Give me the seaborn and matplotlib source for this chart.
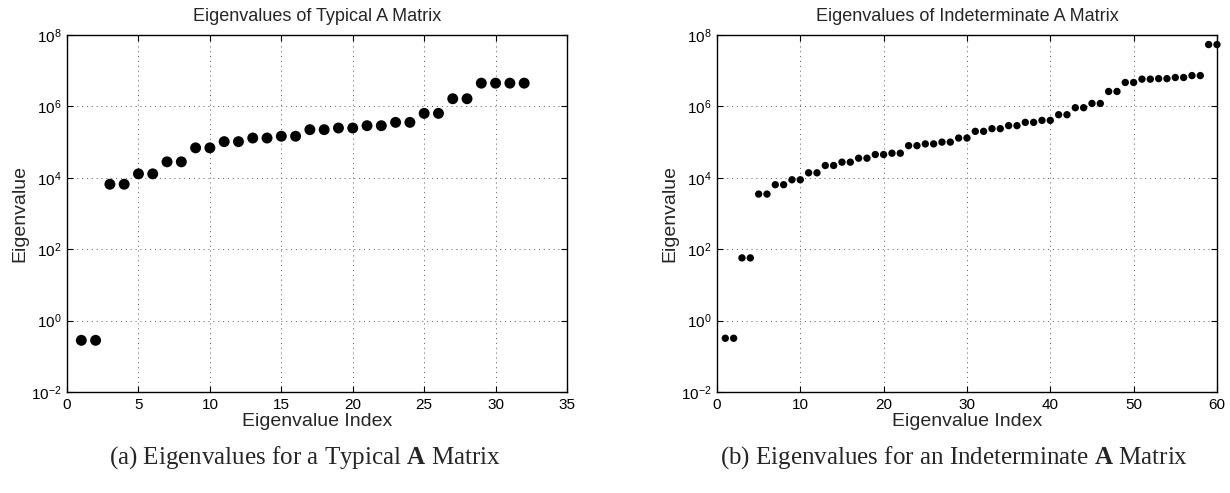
import numpy as np
import pandas as pd
import seaborn as sns
import matplotlib
matplotlib.use("Agg")
import matplotlib.pyplot as plt

# eigenvalues (log scale)
idx_a = list(range(1, 33))
vals_a = [0.28, 0.28, 6600, 6600, 12900, 12900, 28000, 28000,
          69000, 69000, 103000, 103000, 130000, 130000, 146000, 146000,
          223000, 223000, 248000, 248000, 288000, 288000, 357000, 357000,
          638000, 638000, 1.64e6, 1.64e6, 4.48e6, 4.48e6, 4.48e6, 4.48e6]

idx_b = list(range(1, 61))
vals_b = [0.32, 0.32, 57, 57, 3500, 3500, 6400, 6400, 8800, 8800,
          13800, 13800, 22100, 22100, 27400, 27400, 35400, 35400, 44800, 44800,
          48800, 48800, 79500, 79500, 89000, 89000, 100000, 100000, 130000, 130000,
          200000, 200000, 238000, 238000, 289000, 289000, 357000, 357000, 406000, 406000,
          585000, 585000, 919000, 919000, 1.21e6, 1.21e6, 2.62e6, 2.62e6, 4.68e6, 4.68e6,
          5.8e6, 5.8e6, 6.0e6, 6.0e6, 6.45e6, 6.45e6, 7.3e6, 7.3e6, 5.4e7, 5.4e7]

titles = ["Eigenvalues of Typical A Matrix", "Eigenvalues of Indeterminate A Matrix"]
captions = [r"(a) Eigenvalues for a Typical $\mathbf{A}$ Matrix",
            r"(b) Eigenvalues for an Indeterminate $\mathbf{A}$ Matrix"]
xmax = [35, 60]
xticks = [list(range(0, 36, 5)), list(range(0, 61, 10))]

sns.set_style("ticks")
plt.rcParams['font.family'] = ['Liberation Sans', 'DejaVu Sans']
plt.rcParams['mathtext.fontset'] = 'custom'
plt.rcParams['mathtext.bf'] = 'Liberation Serif:bold'
plt.rcParams['mathtext.rm'] = 'Liberation Sans'

fig = plt.figure(figsize=(12.3, 4.93), dpi=100)
ax1 = fig.add_axes([0.0545, 0.2049, 0.4065, 0.7241])
ax2 = fig.add_axes([0.5829, 0.2049, 0.4065, 0.7241])

df_a = pd.DataFrame({"idx": idx_a, "val": vals_a})
df_b = pd.DataFrame({"idx": idx_b, "val": vals_b})

for ax, df, t, xm, xt, s in [(ax1, df_a, titles[0], xmax[0], xticks[0], 62),
                             (ax2, df_b, titles[1], xmax[1], xticks[1], 28)]:
    sns.scatterplot(data=df, x="idx", y="val", ax=ax, color="black", s=s,
                    edgecolor="none", linewidth=0, clip_on=False, zorder=3)
    ax.set_yscale("log")
    ax.set_xlim(0, xm)
    ax.set_ylim(1e-2, 1e8)
    ax.set_xticks(xt)
    ax.set_yticks([1e-2, 1e0, 1e2, 1e4, 1e6, 1e8])
    ax.minorticks_off()
    ax.grid(True, which="major", color="0.35", linestyle=(0, (1, 4)), linewidth=0.7)
    ax.tick_params(direction="in", top=True, right=True, length=4, width=0.8,
                   labelsize=11, colors="black", pad=4)
    for sp in ax.spines.values():
        sp.set_visible(True)
        sp.set_linewidth(1.0)
        sp.set_color("black")
    ax.set_title(t, fontsize=13, pad=10)
    ax.set_xlabel("Eigenvalue Index", fontsize=14, labelpad=1)
    ax.set_ylabel("Eigenvalue", fontsize=14, labelpad=2)

fig.text(0.248, 0.072, captions[0], ha="center", va="center",
         fontsize=18, family="Liberation Serif")
fig.text(0.776, 0.072, captions[1], ha="center", va="center",
         fontsize=18, family="Liberation Serif")

fig.savefig("out.png", dpi=100)
